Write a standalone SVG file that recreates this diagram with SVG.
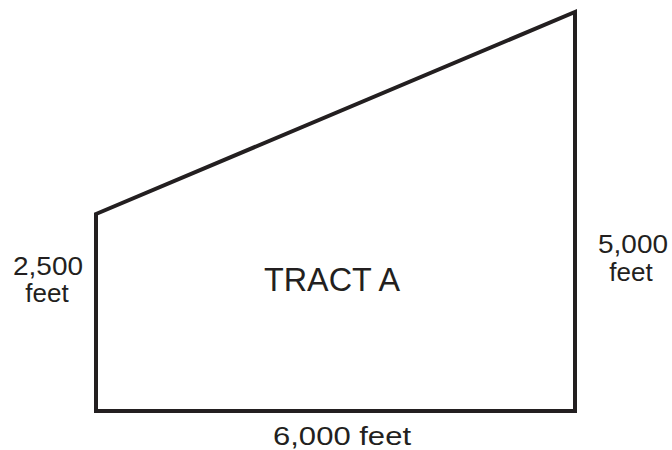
<svg xmlns="http://www.w3.org/2000/svg" width="672" height="450" viewBox="0 0 672 450">
<style>
.lbl{font-family:"Liberation Sans",Arial,sans-serif;font-size:26px;fill:#231f20}
.big{font-family:"Liberation Sans",Arial,sans-serif;font-size:34px;fill:#231f20}
.edge{fill:#ffffff;stroke:#231f20;stroke-width:4;stroke-linejoin:miter}
</style>
<rect width="672" height="450" fill="#ffffff"/>
<g id="tract-a">
<polygon class="edge" points="96,214 575,12 575,411 96,411"/>
<text class="big" x="332" y="291" text-anchor="middle" textLength="136" lengthAdjust="spacingAndGlyphs">TRACT A</text>
</g>
<g id="label-right">
<text class="lbl" x="633" y="253" text-anchor="middle" textLength="70" lengthAdjust="spacingAndGlyphs">5,000</text>
<text class="lbl" x="631" y="281" text-anchor="middle">feet</text>
</g>
<g id="label-left">
<text class="lbl" x="48" y="275" text-anchor="middle" textLength="70" lengthAdjust="spacingAndGlyphs">2,500</text>
<text class="lbl" x="47" y="302" text-anchor="middle">feet</text>
</g>
<g id="label-bottom">
<text class="lbl" x="342" y="445" text-anchor="middle" textLength="138" lengthAdjust="spacingAndGlyphs">6,000 feet</text>
</g>
</svg>
